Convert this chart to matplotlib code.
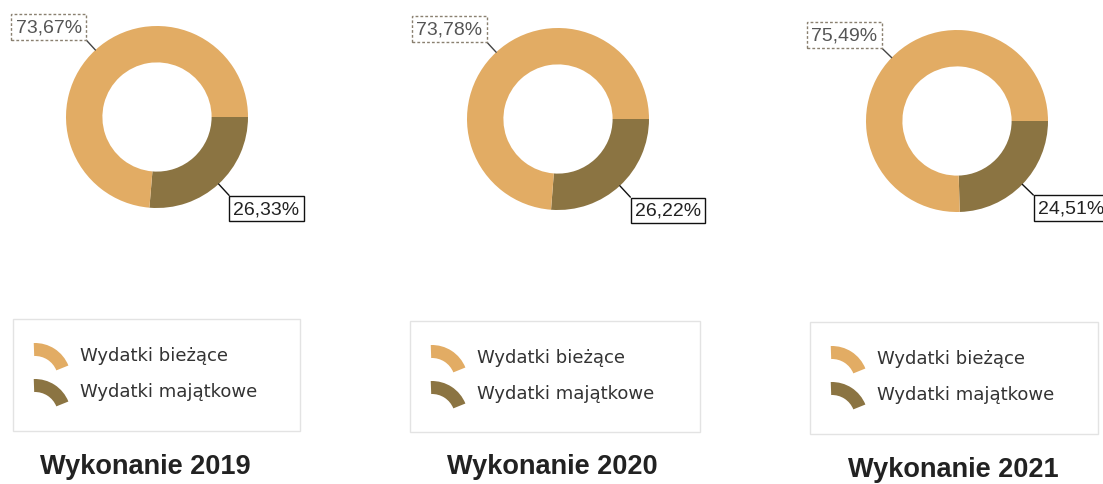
import matplotlib
matplotlib.use("Agg")
import matplotlib.pyplot as plt
import numpy as np
from matplotlib.patches import Rectangle, Wedge

# Shares of expenditure (percent) per year
years = ["Wykonanie 2019", "Wykonanie 2020", "Wykonanie 2021"]
biezace = [73.67, 73.78, 75.49]       # Wydatki bieżące
majatkowe = [26.33, 26.22, 24.51]     # Wydatki majątkowe
series_names = ["Wydatki bieżące", "Wydatki majątkowe"]

light_color = "#E2AC64"
dark_color = "#8B7442"

W, H = 1103, 485
fig = plt.figure(figsize=(W / 100, H / 100), dpi=100)
ax = fig.add_axes([0, 0, 1, 1])

# layout in pixel units (x right, y down); converted to axis coords below
centers = [(157, 118), (558, 120), (957, 122)]
radius = 91
legend_boxes = [(13, 320, 300, 432), (410, 322, 700, 433), (810, 323, 1098, 435)]
title_pos = [(145, 467), (552, 467), (953, 470)]


def Y(y):
    return H - y


def fmt(v):
    return f"{v:.2f}".replace(".", ",") + "%"


for i in range(3):
    cx, cy = centers[i]
    wedges, _ = ax.pie(
        [majatkowe[i], biezace[i]],
        colors=[dark_color, light_color],
        startangle=0,
        counterclock=False,
        radius=radius,
        center=(cx, Y(cy)),
        wedgeprops=dict(width=radius * 0.4, linewidth=0),
    )
    # value labels with leader lines at the middle of each wedge
    for w, val, is_dark in zip(wedges, [majatkowe[i], biezace[i]], [True, False]):
        mid = np.deg2rad((w.theta1 + w.theta2) / 2)
        px, py = cx + radius * np.cos(mid), Y(cy) + radius * np.sin(mid)
        if is_dark:
            rr = radius + 22
            ha, va, rel = "left", "top", (0, 1)
            bbox = dict(boxstyle="square,pad=0.22", fc="white", ec="#111111", lw=1.0)
            tcol = "#222222"
            ecol = "#111111"
        else:
            rr = radius + 20
            ha, va, rel = "right", "bottom", (1, 0)
            bbox = dict(boxstyle="square,pad=0.22", fc="white", ec="#8a8070",
                        lw=1.0, ls=(0, (2, 1.5)))
            tcol = "#555555"
            ecol = "#444444"
        tx, ty = cx + rr * np.cos(mid), Y(cy) + rr * np.sin(mid)
        ax.annotate(
            fmt(val), xy=(px, py), xytext=(tx, ty), ha=ha, va=va,
            fontsize=14, family="Liberation Sans", color=tcol, bbox=bbox,
            arrowprops=dict(arrowstyle="-", color=ecol, lw=1.0, relpos=rel,
                            shrinkA=0, shrinkB=0),
        )

    # legend panel
    x0, y0, x1, y1 = legend_boxes[i]
    ax.add_patch(Rectangle((x0, Y(y1)), x1 - x0, y1 - y0, fc="white",
                           ec="#e3e3e3", lw=1.0))
    row_y = [y0 + 36, y0 + 72]
    for name, col, ry in zip(series_names, [light_color, dark_color], row_y):
        ix = x0 + 22
        ax.add_patch(Wedge((ix, Y(ry + 24)), 36, 22, 92, width=13, fc=col, ec="none"))
        ax.text(ix + 45, Y(ry), name, ha="left", va="center", fontsize=13,
                family="DejaVu Sans", color="#333333")

    tx, ty = title_pos[i]
    ax.text(tx, Y(ty), years[i], ha="center", va="center", fontsize=19.5,
            fontweight="bold", family="Liberation Sans", color="#222222")

ax.set_xlim(0, W)
ax.set_ylim(0, H)
ax.set_aspect("auto")
ax.axis("off")
fig.savefig("out.png", dpi=100, facecolor="white")
